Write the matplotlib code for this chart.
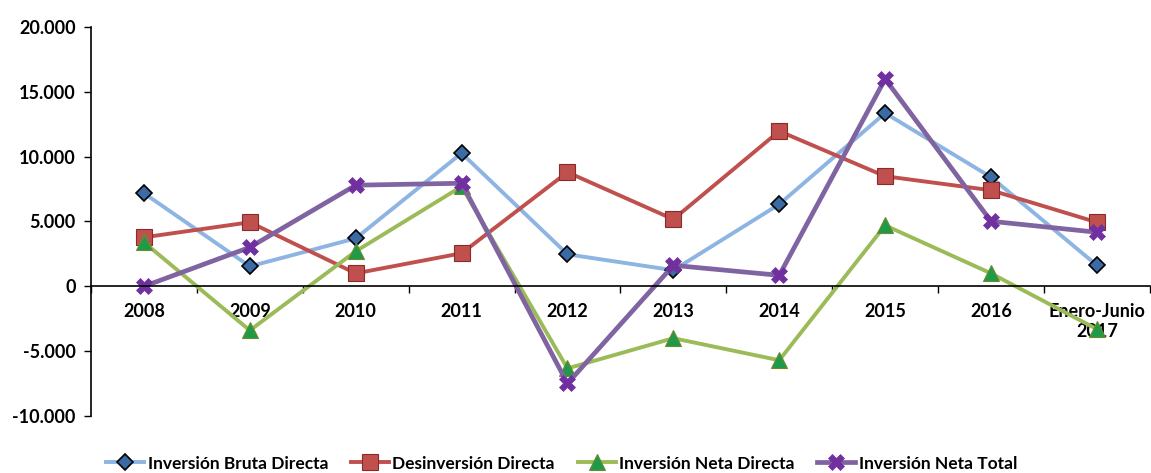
import numpy as np
import matplotlib.pyplot as plt
from matplotlib.ticker import FuncFormatter, FixedLocator

plt.rcParams['font.family'] = ['Lato', 'DejaVu Sans']
plt.rcParams['font.weight'] = 'bold'

categories = ['2008', '2009', '2010', '2011', '2012', '2013', '2014', '2015', '2016', 'Enero-Junio\n2017']
bruta = [7180, 1540, 3700, 10270, 2470, 1240, 6330, 13360, 8420, 1620]
desinversion = [3780, 4940, 1000, 2550, 8800, 5170, 11970, 8490, 7410, 4940]
neta_directa = [3400, -3400, 2700, 7700, -6330, -4000, -5700, 4700, 1000, -3300]
neta_total = [0, 3010, 7800, 7950, -7490, 1620, 850, 15990, 5020, 4170]

fig = plt.figure(figsize=(11.51, 4.73), dpi=100)
ax = fig.add_axes([91 / 1151, 1 - 416 / 473, 1 - 91 / 1151 - 0.001, (416 - 27) / 473])

x = np.arange(len(categories))
lw = 2.8

ax.plot(x, bruta, color='#8DB4E2', lw=lw, marker='D', ms=8,
        mfc='#3B6BA5', mec='black', mew=1.2, label='Inversión Bruta Directa')
ax.plot(x, desinversion, color='#C0504D', lw=lw, marker='s', ms=11,
        mfc='#C0504D', mec='#8B2A28', mew=0.8, label='Desinversión Directa')
ax.plot(x, neta_directa, color='#9BBB59', lw=lw, marker='^', ms=11,
        mfc='#1E9A48', mec='#6E8A2E', mew=0.8, label='Inversión Neta Directa')
ax.plot(x, neta_total, color='#8064A2', lw=lw + 0.6, marker='X', ms=12,
        mfc='#7030A0', mec='#7030A0', mew=0.5, label='Inversión Neta Total')

ax.set_xlim(-0.5, len(categories) - 0.5)
ax.set_ylim(-10000, 20000)
ax.set_yticks(np.arange(-10000, 20001, 5000))
ax.yaxis.set_major_formatter(FuncFormatter(lambda v, p: f'{int(v):,}'.replace(',', '.')))

ax.set_xticks(x)
ax.set_xticklabels(categories, linespacing=1.1)
ax.xaxis.set_minor_locator(FixedLocator(np.arange(-0.5, len(categories), 1.0)))
ax.tick_params(axis='x', which='major', length=0, pad=12, labelsize=13)
ax.tick_params(axis='x', which='minor', length=5, width=1, direction='out')
ax.tick_params(axis='y', length=5, width=1, direction='out', labelsize=13, pad=6)

for lab in ax.get_xticklabels() + ax.get_yticklabels():
    lab.set_fontweight('bold')

ax.spines['top'].set_visible(False)
ax.spines['right'].set_visible(False)
ax.spines['bottom'].set_position(('data', 0))
ax.spines['bottom'].set_linewidth(1.2)
ax.spines['left'].set_linewidth(1.2)

fig.legend(loc='lower center', bbox_to_anchor=(0.488, -0.03), ncol=4, frameon=False,
           prop={'size': 12.5, 'weight': 'bold'}, handlelength=2.2, handletextpad=0.2,
           columnspacing=1.3)

fig.savefig('out.png', dpi=100)
